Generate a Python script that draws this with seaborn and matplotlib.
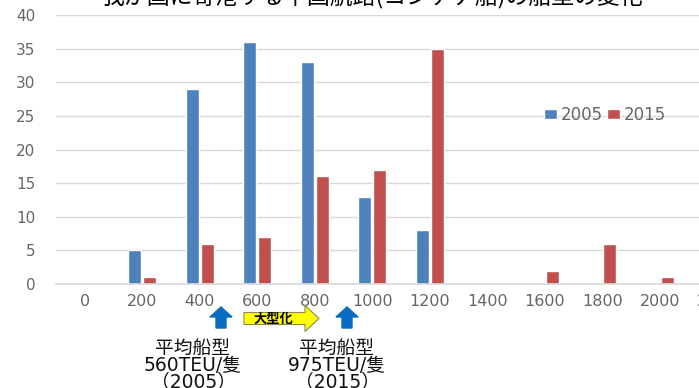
import matplotlib
matplotlib.use("Agg")
import matplotlib.pyplot as plt
import matplotlib.patches as mpatches
from matplotlib.transforms import IdentityTransform
import seaborn as sns
import pandas as pd

# ---- data ----
categories = ["0", "200", "400", "600", "800", "1000", "1200", "1400",
              "1600", "1800", "2000", "2200"]
values_2005 = [0, 5, 29, 36, 33, 13, 8, 0, 0, 0, 0, 0]
values_2015 = [0, 1, 6, 7, 16, 17, 35, 0, 2, 6, 1, 0]
series_names = ["2005", "2015"]
title_text = "我が国に寄港する中国航路(コンテナ船)の船型の変化"
note_2005 = "平均船型\n560TEU/隻\n（2005）"
note_2015 = "平均船型\n975TEU/隻\n（2015）"
arrow_label = "大型化"

df = pd.DataFrame({
    "size": categories * 2,
    "count": values_2005 + values_2015,
    "year": [series_names[0]] * len(categories) + [series_names[1]] * len(categories),
})

sns.set_theme(style="white")
plt.rcParams["font.family"] = ["DejaVu Sans", "Noto Sans CJK JP"]

W, H = 699, 388
fig = plt.figure(figsize=(W / 100, H / 100), dpi=100)
ax = fig.add_axes([56 / W, (H - 284) / H, 690 / W, 269 / H])

palette = {"2005": "#4f81bd", "2015": "#c0504d"}
sns.barplot(data=df, x="size", y="count", hue="year", order=categories,
            hue_order=series_names, palette=palette, width=0.52, gap=0.12,
            saturation=1, ax=ax, legend=True)

ax.set_ylim(0, 40)
ax.set_yticks(range(0, 41, 5))
ax.set_xlabel("")
ax.set_ylabel("")
ax.grid(axis="y", color="#d9d9d9", linewidth=1)
ax.set_axisbelow(True)
for s in ["top", "right", "left"]:
    ax.spines[s].set_visible(False)
ax.spines["bottom"].set_color("#d9d9d9")
ax.tick_params(axis="y", length=0, pad=15, labelsize=11, labelcolor="#666666")
ax.tick_params(axis="x", length=0, pad=7, labelsize=11.5, labelcolor="#666666")

leg = ax.legend(loc="center left", bbox_to_anchor=(536 / W, (H - 115) / H),
                bbox_transform=fig.transFigure, frameon=False, ncol=2,
                fontsize=12, handlelength=0.75, handleheight=0.6,
                handletextpad=0.25, columnspacing=0.25, borderpad=0)
for t in leg.get_texts():
    t.set_color("#666666")

# title (partly above the visible area)
fig.text(372 / W, 1.0 + 3 / H, title_text, ha="center", va="center",
         fontsize=16.5, color="black",
         family=["Noto Sans CJK JP", "DejaVu Sans"])

# annotation arrows (figure pixel coordinates, y from top)
def px(x, y):
    return x, H - y

ident = IdentityTransform()
for xc in (221, 347):
    x0, y0 = px(xc, 328)
    arr = mpatches.FancyArrow(x0, y0, 0, 21, width=10, head_width=22,
                              head_length=10, length_includes_head=True,
                              color="#0a6cc0", transform=ident)
    fig.add_artist(arr)

x0, y0 = px(244, 318.5)
yarr = mpatches.FancyArrow(x0, y0, 75, 0, width=12, head_width=26,
                           head_length=14, length_includes_head=True,
                           facecolor="#ffff00", edgecolor="#8c8c50",
                           linewidth=0.8, transform=ident)
fig.add_artist(yarr)
fig.text(273 / W, (H - 319) / H, arrow_label, ha="center", va="center",
         fontsize=9.5, color="black", fontweight="bold",
         family=["Noto Sans CJK JP", "DejaVu Sans"])

for xc, txt in ((193, note_2005), (337, note_2015)):
    fig.text(xc / W, (H - 339) / H, txt, ha="center", va="top", fontsize=13.5,
             color="#111111", linespacing=0.85,
             family=["DejaVu Sans", "Noto Sans CJK JP"])

fig.savefig("out.png", dpi=100)
